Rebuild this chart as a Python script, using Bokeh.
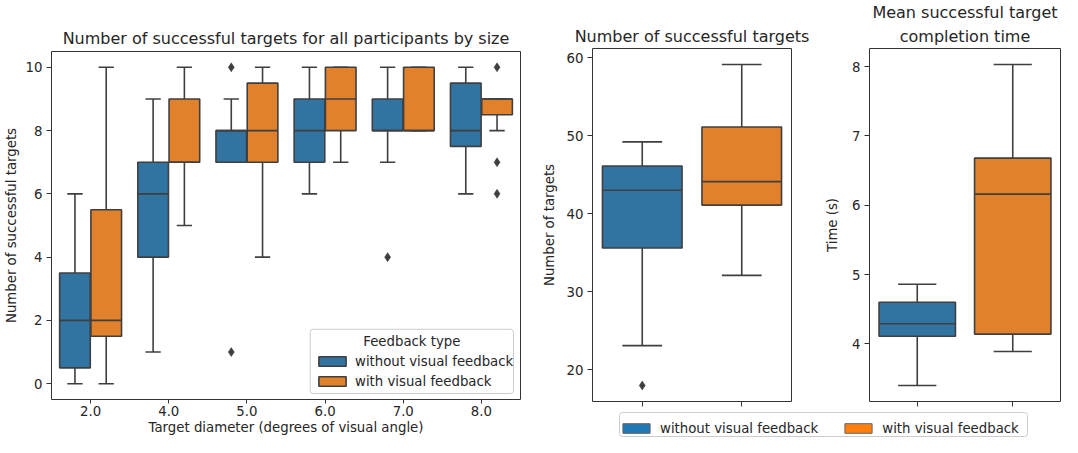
from bokeh.plotting import figure
from bokeh.models import (ColumnDataSource, Range1d, FixedTicker, Legend, LegendItem,
                          BoxAnnotation, Label, Title)
from bokeh.layouts import row, column
from bokeh.embed import file_html
from bokeh.resources import INLINE

# ---------------- data ----------------
sizes = ["2.0", "4.0", "5.0", "6.0", "7.0", "8.0"]
feedback = ["without visual feedback", "with visual feedback"]

# number of successful targets per size, without visual feedback
no_fb_low = [0, 1, 7, 6, 7, 6]
no_fb_q1 = [0.5, 4, 7, 7, 8, 7.5]
no_fb_med = [2, 6, 8, 8, 8, 8]
no_fb_q3 = [3.5, 7, 8, 9, 9, 9.5]
no_fb_high = [6, 9, 9, 10, 10, 10]
no_fb_out_size = ["5.0", "5.0", "7.0"]
no_fb_out_val = [10, 1, 4]

# number of successful targets per size, with visual feedback
fb_low = [0, 5, 4, 7, 8, 8]
fb_q1 = [1.5, 7, 7, 8, 8, 8.5]
fb_med = [2, 7, 8, 9, 8, 9]
fb_q3 = [5.5, 9, 9.5, 10, 10, 9]
fb_high = [10, 10, 10, 10, 10, 9]
fb_out_size = ["8.0", "8.0", "8.0"]
fb_out_val = [10, 7, 6]

# total number of successful targets (without, with)
total_low = [23.1, 32.1]
total_q1 = [35.6, 41.1]
total_med = [43.0, 44.1]
total_q3 = [46.1, 51.1]
total_high = [49.2, 59.1]
total_out_group = [0]
total_out_val = [18.0]

# mean successful target completion time in s (without, with)
time_low = [3.40, 3.89]
time_q1 = [4.11, 4.14]
time_med = [4.29, 6.16]
time_q3 = [4.60, 6.68]
time_high = [4.86, 8.03]

# ---------------- style ----------------
BLUE = "#3274a1"
ORANGE = "#e1812c"
BLUE_FULL = "#1f77b4"
ORANGE_FULL = "#ff7f0e"
EDGE = "#3f3f3f"
FRAME = "#333333"
TXT = "#262626"
FONT = "DejaVu Sans"
FS = "13.3px"
LW = 1.6


def padded(lo, hi, frac=0.05):
    d = (hi - lo) * frac
    return Range1d(lo - d, hi + d)


def title_obj(text, standoff):
    return Title(text=text, text_font=FONT, text_font_size="16px",
                 text_font_style="normal", text_color=TXT, align="center",
                 standoff=standoff)


def style(p, yticks, ylabel, label_standoff):
    p.grid.visible = False
    p.outline_line_color = FRAME
    p.outline_line_width = 1
    p.outline_line_alpha = 1
    for ax in (p.xaxis[0], p.yaxis[0]):
        ax.axis_line_color = None
        ax.major_tick_line_color = FRAME
        ax.major_tick_line_width = 1
        ax.major_tick_out = 5
        ax.major_tick_in = 0
        ax.minor_tick_line_color = None
        ax.major_label_text_font = FONT
        ax.major_label_text_font_size = FS
        ax.major_label_text_color = TXT
        ax.major_label_standoff = 4
        ax.axis_label_text_font = FONT
        ax.axis_label_text_font_size = FS
        ax.axis_label_text_font_style = "normal"
        ax.axis_label_text_color = TXT
    p.yaxis[0].ticker = FixedTicker(ticks=yticks)
    p.yaxis[0].axis_label = ylabel
    p.yaxis[0].axis_label_standoff = label_standoff


def draw_boxes(p, xs, low, q1, med, q3, high, width, color):
    src = ColumnDataSource(dict(
        x=xs, low=low, q1=q1, med=med, q3=q3, high=high,
        left=[x - width / 2 for x in xs], right=[x + width / 2 for x in xs],
        cap_l=[x - width / 4 for x in xs], cap_r=[x + width / 4 for x in xs]))
    kw = dict(source=src, line_color=EDGE, line_width=LW)
    p.segment(x0="x", y0="low", x1="x", y1="q1", **kw)
    p.segment(x0="x", y0="q3", x1="x", y1="high", **kw)
    p.segment(x0="cap_l", y0="low", x1="cap_r", y1="low", **kw)
    p.segment(x0="cap_l", y0="high", x1="cap_r", y1="high", **kw)
    r = p.vbar(x="x", width=width, bottom="q1", top="q3", fill_color=color, **kw)
    p.segment(x0="left", y0="med", x1="right", y1="med", **kw)
    return r


def outliers(p, xs, ys):
    p.scatter(x=xs, y=ys, marker="diamond", size=9, fill_color=EDGE,
              line_color=EDGE, line_width=0.5)


# ---------------- left panel: per size ----------------
n = len(sizes)
left = figure(width=532, height=437, output_backend="svg", toolbar_location=None,
              title=None,
              x_range=Range1d(-0.5, n - 0.5), y_range=padded(0, 10),
              min_border_left=46, min_border_right=12, min_border_top=51,
              min_border_bottom=38)
style(left, [0, 2, 4, 6, 8, 10], "Number of successful targets", 4)
left.add_layout(title_obj("Number of successful targets for all participants by size", 7),
                "above")
left.xaxis[0].ticker = FixedTicker(ticks=list(range(n)))
left.xaxis[0].major_label_overrides = {i: s for i, s in enumerate(sizes)}
left.xaxis[0].axis_label = "Target diameter (degrees of visual angle)"
left.xaxis[0].major_label_standoff = 2
left.xaxis[0].major_tick_out = 4
left.xaxis[0].axis_label_standoff = 1

bw = 0.8 / 2 * 0.98
r_no = draw_boxes(left, [i - 0.2 for i in range(n)], no_fb_low, no_fb_q1, no_fb_med,
                  no_fb_q3, no_fb_high, bw, BLUE)
r_fb = draw_boxes(left, [i + 0.2 for i in range(n)], fb_low, fb_q1, fb_med,
                  fb_q3, fb_high, bw, ORANGE)
outliers(left, [sizes.index(s) - 0.2 for s in no_fb_out_size], no_fb_out_val)
outliers(left, [sizes.index(s) + 0.2 for s in fb_out_size], fb_out_val)

left.add_layout(BoxAnnotation(left=2.81, right=5.41, bottom=-0.31, top=1.72,
                              fill_color="white", fill_alpha=0.8,
                              line_color="#cccccc", line_width=1, line_alpha=1,
                              border_radius=3))
left.add_layout(Label(x=4.11, y=1.34, text="Feedback type", text_font=FONT,
                      text_font_size=FS, text_color=TXT, text_align="center",
                      text_baseline="middle"))
leg_left = Legend(items=[LegendItem(label=feedback[0], renderers=[r_no]),
                         LegendItem(label=feedback[1], renderers=[r_fb])],
                  location=(264, 10), orientation="vertical",
                  background_fill_alpha=0, border_line_color=None,
                  glyph_width=34, glyph_height=12, label_height=16, spacing=4,
                  padding=0, margin=0, label_standoff=6,
                  label_text_font=FONT, label_text_font_size=FS,
                  label_text_color=TXT)
left.add_layout(leg_left)

# ---------------- middle panel: totals ----------------
mid = figure(width=290, height=411, output_backend="svg", toolbar_location=None,
             title=None, x_range=Range1d(-0.5, 1.5),
             y_range=padded(min(total_low + total_out_val), max(total_high)),
             min_border_left=60, min_border_right=31, min_border_top=47,
             min_border_bottom=10)
style(mid, [20, 30, 40, 50, 60], "Number of targets", 7)
mid.add_layout(title_obj("Number of successful targets", 5), "above")
draw_boxes(mid, [0], total_low[:1], total_q1[:1], total_med[:1], total_q3[:1],
           total_high[:1], 0.8, BLUE)
draw_boxes(mid, [1], total_low[1:], total_q1[1:], total_med[1:], total_q3[1:],
           total_high[1:], 0.8, ORANGE)
outliers(mid, total_out_group, total_out_val)

# ---------------- right panel: time ----------------
rgt = figure(width=240, height=411, output_backend="svg", toolbar_location=None,
             title=None, x_range=Range1d(-0.5, 1.5),
             y_range=padded(min(time_low), max(time_high)),
             min_border_left=45, min_border_right=2, min_border_top=47,
             min_border_bottom=10)
style(rgt, [4, 5, 6, 7, 8], "Time (s)", 9)
rgt.add_layout(title_obj("completion time", 5), "above")
rgt.add_layout(title_obj("Mean successful target", 1), "above")
draw_boxes(rgt, [0], time_low[:1], time_q1[:1], time_med[:1], time_q3[:1],
           time_high[:1], 0.8, BLUE)
draw_boxes(rgt, [1], time_low[1:], time_q1[1:], time_med[1:], time_q3[1:],
           time_high[1:], 0.8, ORANGE)

for p in (mid, rgt):
    p.xaxis[0].ticker = FixedTicker(ticks=[0, 1])
    p.xaxis[0].major_label_overrides = {0: "", 1: ""}
    p.xaxis[0].major_label_text_font_size = "0px"
    p.xaxis[0].major_label_standoff = 0

# ---------------- shared legend below the right panels ----------------
# the strip's y range covers the total-box values so the handle bars lie
# underneath the opaque legend frame (annotations are drawn above glyphs)
LEG_W, LEG_H = 530, 26
Y0 = 30
leg = figure(width=LEG_W, height=LEG_H, output_backend="svg", toolbar_location=None,
             title=None, x_range=Range1d(0, LEG_W), y_range=Range1d(Y0, Y0 + LEG_H),
             x_axis_location=None, y_axis_location=None, min_border=0)
leg.grid.visible = False
leg.outline_line_color = None
d_no = leg.vbar(x=[290], bottom=total_q1[:1], top=total_q3[:1], width=0.8,
                fill_color=BLUE_FULL, line_color="#666666", line_width=1)
d_fb = leg.vbar(x=[290], bottom=total_q1[1:], top=total_q3[1:], width=0.8,
                fill_color=ORANGE_FULL, line_color="#666666", line_width=1)
leg.add_layout(BoxAnnotation(left=87, right=495, bottom=Y0 + 1, top=Y0 + 25,
                             fill_color="white", fill_alpha=1,
                             line_color="#cccccc", line_width=1, line_alpha=1,
                             border_radius=3))
leg.add_layout(Legend(items=[LegendItem(label=feedback[0], renderers=[d_no]),
                             LegendItem(label=feedback[1], renderers=[d_fb])],
                      location=(87, 1), orientation="horizontal",
                      background_fill_alpha=0, border_line_color=None,
                      glyph_width=34, glyph_height=12, label_height=16,
                      spacing=23, padding=4, margin=0, label_standoff=7,
                      label_text_font=FONT, label_text_font_size=FS,
                      label_text_color=TXT))

layout = row(left, column(row(mid, rgt), leg))
open("out.html", "w").write(file_html(layout, INLINE))
